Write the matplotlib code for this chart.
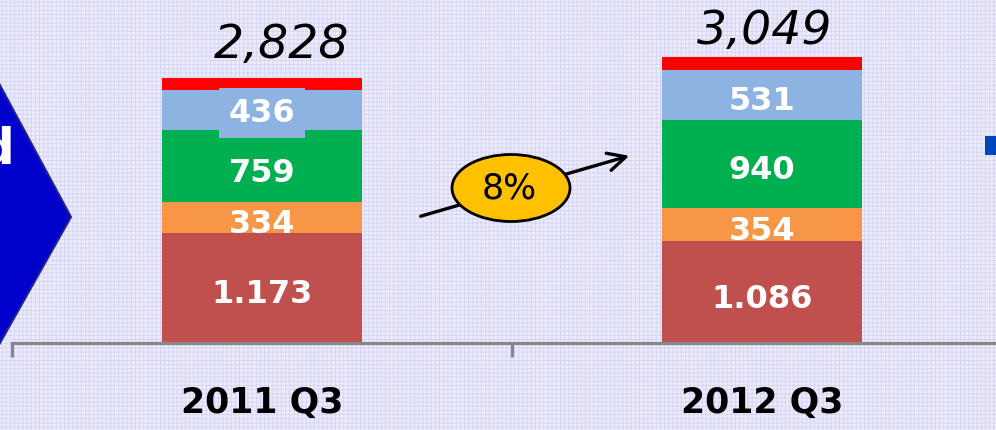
import matplotlib
matplotlib.use("Agg")
import matplotlib.pyplot as plt
from matplotlib.patches import Ellipse, Polygon, Rectangle

# data
quarters = ["2011 Q3", "2012 Q3"]
seg_bottom = [1173, 1086]   # dark red
seg_orange = [334, 354]
seg_green = [759, 940]
seg_blue = [436, 531]
totals = [2828, 3049]
seg_labels = [["1.173", "334", "759", "436"],
              ["1.086", "354", "940", "531"]]
total_labels = ["2,828", "3,049"]
growth_label = "8%"

seg_colors = ["#c0504d", "#f79646", "#00b050", "#8db3e2", "#ff0000"]

W, H, DPI = 996, 430, 100
# pixel mapping: category boundary at px 12 / 512, baseline at py 343
PX_PER_CAT = 500.0
PX_PER_UNIT = 0.0938
X0 = -0.5 - 12 / PX_PER_CAT
Y_TOP = 343 / PX_PER_UNIT
Y_BOT = (343 - H) / PX_PER_UNIT


def px_x(px):
    return X0 + px / PX_PER_CAT


def px_y(py):
    return (343 - py) / PX_PER_UNIT


fig = plt.figure(figsize=(W / DPI, H / DPI), dpi=DPI)
fig.patch.set_facecolor("#ebebfb")
ax = fig.add_axes([0, 0, 1, 1])
ax.set_facecolor("none")

# background grid texture
plt.rcParams["hatch.linewidth"] = 0.6
plt.rcParams["hatch.color"] = "#d4d4f4"
ax.add_patch(Rectangle((0, 0), 1, 1, transform=ax.transAxes, facecolor="#ebebfb",
                       hatch="++++", edgecolor="#d4d4f4", lw=0, zorder=0))

# stacked bars
x = list(range(len(quarters)))
tops = [t - a - b - c - d for t, a, b, c, d in
        zip(totals, seg_bottom, seg_orange, seg_green, seg_blue)]
stack = [seg_bottom, seg_orange, seg_green, seg_blue, tops]
bottoms = [0] * len(x)
centers = []
for vals, col in zip(stack, seg_colors):
    ax.bar(x, vals, width=0.4, bottom=bottoms, color=col, zorder=2)
    centers.append([b + v / 2 for b, v in zip(bottoms, vals)])
    bottoms = [b + v for b, v in zip(bottoms, vals)]

for i in x:
    for j in range(4):
        kw = {}
        dy = -7
        if i == 0 and j == 3:
            kw["bbox"] = dict(boxstyle="square,pad=0.3", fc=seg_colors[3], ec="none")
            dy = -3
        ax.annotate(seg_labels[i][j], (i, centers[j][i]), xytext=(0, dy),
                    textcoords="offset pixels", ha="center", va="center",
                    color="white", fontsize=23, fontweight="bold", zorder=4, **kw)

# totals above bars
total_offsets = [(20, 10), (3, 3)]
for i in x:
    ax.annotate(total_labels[i], (i, totals[i]), xytext=total_offsets[i],
                textcoords="offset pixels", ha="center", va="bottom",
                fontsize=34, style="italic", color="black", zorder=4)

# axis line with category boundary ticks
for s in ["top", "left", "right"]:
    ax.spines[s].set_visible(False)
ax.spines["bottom"].set_position(("data", 0))
ax.spines["bottom"].set_bounds(-0.5, 1.5)
ax.spines["bottom"].set_color("#878787")
ax.spines["bottom"].set_linewidth(2.3)
ax.spines["bottom"].set_zorder(3)
ax.set_xticks([-0.5, 0.5])
ax.set_xticklabels([])
ax.tick_params(axis="x", which="major", direction="out", length=10,
               width=2.3, color="#878787")
ax.set_xticks(x, minor=True)
ax.set_xticklabels(quarters, minor=True, fontsize=25, fontweight="bold")
ax.tick_params(axis="x", which="minor", length=0, pad=31)
ax.set_yticks([])

# growth arrow with badge
ax.annotate("", xy=(px_x(632), px_y(155)), xytext=(px_x(418), px_y(217)),
            arrowprops=dict(arrowstyle="->", lw=2.4, color="black",
                            mutation_scale=32), zorder=5)
ax.add_patch(Ellipse((px_x(511), px_y(188)), 118 / PX_PER_CAT, 67 / PX_PER_UNIT,
                     facecolor="#ffc000", edgecolor="black", lw=2, zorder=6))
ax.text(px_x(509), px_y(188), growth_label, ha="center", va="center",
        fontsize=25, color="black", zorder=7)

# partial chevron on the left
ax.add_patch(Polygon([(px_x(-40), px_y(11)), (px_x(71), px_y(217)),
                      (px_x(-40), px_y(414))],
                     closed=True, facecolor="#0000cc", edgecolor="#23238a",
                     lw=1.5, zorder=2))
ax.text(px_x(15), px_y(163), "d", ha="right", va="baseline", color="white",
        fontsize=36, fontweight="bold", zorder=3)

# partial legend marker on the right
ax.add_patch(Rectangle((px_x(985), px_y(155)), 20 / PX_PER_CAT, 19 / PX_PER_UNIT,
                       facecolor="#0047bb", edgecolor="none", zorder=2))

# limits last so tick setting cannot widen the view
ax.set_xlim(X0, X0 + W / PX_PER_CAT)
ax.set_ylim(Y_BOT, Y_TOP)

fig.savefig("out.png", dpi=DPI)
